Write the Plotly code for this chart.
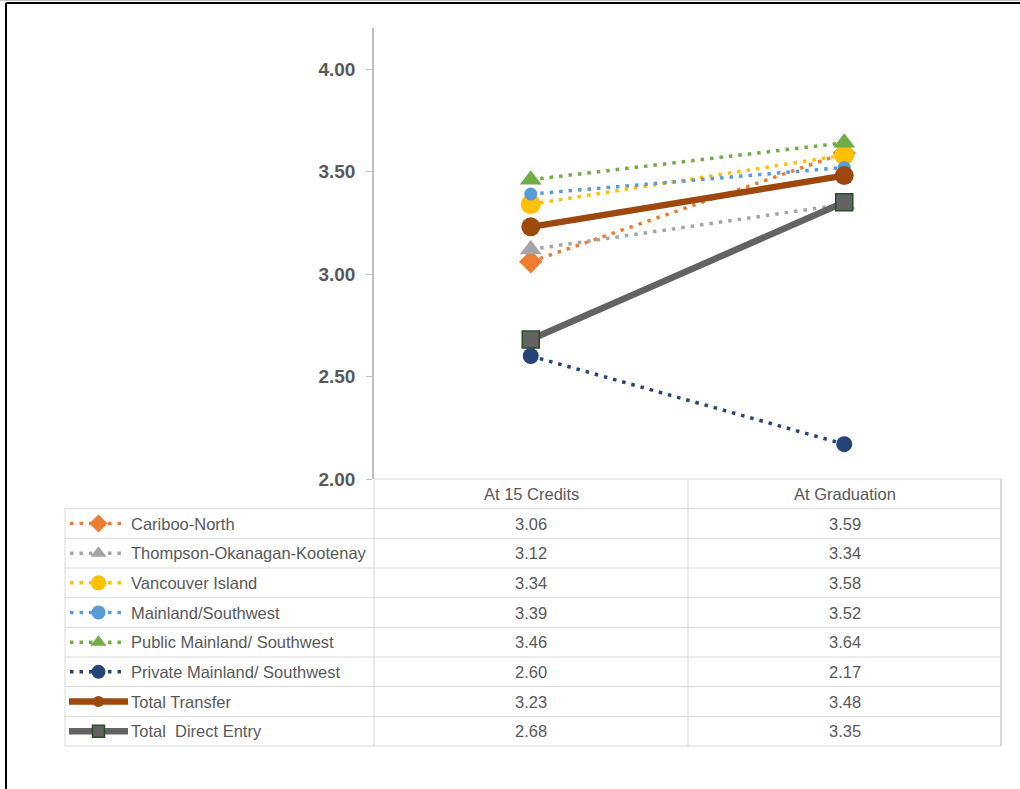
import plotly.graph_objects as go

# ---------------- data ----------------
categories = ["At 15 Credits", "At Graduation"]
series_names = [
    "Cariboo-North",
    "Thompson-Okanagan-Kootenay",
    "Vancouver Island",
    "Mainland/Southwest",
    "Public Mainland/ Southwest",
    "Private Mainland/ Southwest",
    "Total Transfer",
    "Total  Direct Entry",
]
cariboo_north = [3.06, 3.59]
thompson_okanagan_kootenay = [3.12, 3.34]
vancouver_island = [3.34, 3.58]
mainland_southwest = [3.39, 3.52]
public_mainland_southwest = [3.46, 3.64]
private_mainland_southwest = [2.60, 2.17]
total_transfer = [3.23, 3.48]
total_direct_entry = [2.68, 3.35]
series_values = [
    cariboo_north, thompson_okanagan_kootenay, vancouver_island,
    mainland_southwest, public_mainland_southwest, private_mainland_southwest,
    total_transfer, total_direct_entry,
]
y_ticks = [2.0, 2.5, 3.0, 3.5, 4.0]

# ---------------- styles ----------------
DOT = "3.5px,6px"
styles = [
    dict(color="#ED7D31", dash=DOT, width=3.5, symbol="diamond", size=18, lsize=14, mline=None),
    dict(color="#A5A5A5", dash=DOT, width=3.5, symbol="triangle-up", size=19, lsize=14, mline=None),
    dict(color="#FFC000", dash=DOT, width=3.5, symbol="circle", size=20, lsize=15, mline=None),
    dict(color="#5B9BD5", dash=DOT, width=3.5, symbol="circle", size=13, lsize=14, mline=None),
    dict(color="#70AD47", dash=DOT, width=3.5, symbol="triangle-up", size=19, lsize=14, mline=None),
    dict(color="#264478", dash=DOT, width=3.5, symbol="circle", size=16, lsize=14, mline=None),
    dict(color="#9E480E", dash="solid", width=6.5, symbol="circle", size=19, lsize=11, mline=None),
    dict(color="#636363", dash="solid", width=6.5, symbol="square", size=17, lsize=12, mline="#264D26"),
]

W, H = 1020, 789          # reference pixel space
FIG_H = 800               # rendered page height (screenshot is scaled to 789)
PLOT_L, PLOT_R, PLOT_T, PLOT_B = 374, 1001, 28, 479
TAB_L, TAB_B = 65, 746
COL_MID = 688
n_rows = len(series_names) + 1
row_h = (TAB_B - PLOT_B) / n_rows
TEXT = "#595959"
GRID = "#D9D9D9"
FONT = "Liberation Sans, Arial, sans-serif"

fig = go.Figure()

# main chart lines
for name, vals, st in zip(series_names, series_values, styles):
    fig.add_trace(go.Scatter(
        x=categories, y=vals, name=name, mode="lines+markers",
        line=dict(color=st["color"], width=st["width"], dash=st["dash"]),
        marker=dict(symbol=st["symbol"], size=st["size"], color=st["color"], opacity=1,
                    line=dict(color=st["mline"] or st["color"], width=1.5 if st["mline"] else 0)),
        xaxis="x", yaxis="y", showlegend=False, hoverinfo="skip",
    ))

# legend keys inside the data table (pixel-coordinate overlay axes)
for i, (name, st) in enumerate(zip(series_names, styles)):
    yc = PLOT_B + (i + 1.5) * row_h
    x0, x1 = (70, 127) if st["dash"] != "solid" else (69, 128)
    xm = (x0 + x1) / 2
    fig.add_trace(go.Scatter(
        x=[x0, x1], y=[yc, yc], mode="lines",
        line=dict(color=st["color"], width=st["width"], dash=st["dash"]),
        xaxis="x2", yaxis="y2", showlegend=False, hoverinfo="skip",
    ))
    fig.add_trace(go.Scatter(
        x=[xm], y=[yc], mode="markers",
        marker=dict(symbol=st["symbol"], size=st["lsize"], color=st["color"], opacity=1,
                    line=dict(color=st["mline"] or st["color"], width=1.5 if st["mline"] else 0)),
        xaxis="x2", yaxis="y2", showlegend=False, hoverinfo="skip",
    ))

shapes = []
def pline(x0, y0, x1, y1, color=GRID, width=1):
    shapes.append(dict(type="line", xref="paper", yref="paper",
                       x0=x0 / W, x1=x1 / W, y0=1 - y0 / H, y1=1 - y1 / H,
                       line=dict(color=color, width=width), layer="below"))

# table grid
pline(PLOT_L, PLOT_B, PLOT_R, PLOT_B)
for k in range(1, n_rows + 1):
    pline(TAB_L, PLOT_B + k * row_h, PLOT_R, PLOT_B + k * row_h)
pline(TAB_L, PLOT_B + row_h, TAB_L, TAB_B)
pline(PLOT_L, PLOT_B, PLOT_L, TAB_B)
pline(COL_MID, PLOT_B, COL_MID, TAB_B)
pline(PLOT_R, PLOT_B, PLOT_R, TAB_B, width=2)
# outer frame (left and top)
pline(6, 3, 6, H, color="#000000", width=2)
pline(6, 3, W, 3, color="#000000", width=2)
pline(0, 0.5, W, 0.5, color="#BFBFBF", width=1)

annotations = []
col_centers = [(PLOT_L + COL_MID) / 2, (COL_MID + PLOT_R) / 2]
TFS = 16.5
for c, cat in zip(col_centers, categories):
    annotations.append(dict(x=c / W, y=1 - (PLOT_B + 0.5 * row_h) / H, xref="paper", yref="paper",
                            text=cat, showarrow=False, xanchor="center", yanchor="middle",
                            font=dict(size=TFS, color=TEXT, family=FONT)))
for i, (name, vals) in enumerate(zip(series_names, series_values)):
    yc = 1 - (PLOT_B + (i + 1.5) * row_h) / H
    annotations.append(dict(x=129 / W, y=yc, xref="paper", yref="paper", text=name.replace("  ", "&nbsp; "),
                            showarrow=False, xanchor="left", yanchor="middle",
                            font=dict(size=TFS, color=TEXT, family=FONT)))
    for c, v in zip(col_centers, vals):
        annotations.append(dict(x=c / W, y=yc, xref="paper", yref="paper", text=f"{v:.2f}",
                                showarrow=False, xanchor="center", yanchor="middle",
                                font=dict(size=TFS, color=TEXT, family=FONT)))

fig.update_layout(
    width=W, height=FIG_H, margin=dict(l=0, r=0, t=0, b=0),
    paper_bgcolor="white", plot_bgcolor="rgba(0,0,0,0)",
    xaxis=dict(domain=[PLOT_L / W, PLOT_R / W], type="category", range=[-0.5, 1.5],
               showticklabels=False, showgrid=False, zeroline=False, showline=False, ticks=""),
    yaxis=dict(domain=[1 - PLOT_B / H, 1 - PLOT_T / H], range=[2.0, 4.2],
               tickvals=y_ticks, tickformat=".2f", showgrid=False, zeroline=False,
               showline=True, linecolor="#BFBFBF", linewidth=1.5,
               ticks="outside", ticklen=6, tickcolor="#BFBFBF", ticklabelstandoff=7,
               tickfont=dict(size=19, color=TEXT, family=FONT, weight="bold")),
    xaxis2=dict(domain=[0, 1], range=[0, W], visible=False, anchor="y2"),
    yaxis2=dict(domain=[0, 1], range=[H, 0], visible=False, anchor="x2"),
    shapes=shapes, annotations=annotations, showlegend=False,
)

post = (
    "document.documentElement.style.margin='0';"
    "document.documentElement.style.overflow='hidden';"
    "document.body.style.margin='0';"
    "document.body.style.overflow='hidden';"
    "var gd=document.getElementById('{plot_id}');"
    "gd.style.position='absolute';gd.style.left='0px';gd.style.top='0px';"
)
fig.write_html("out.html", config={"displayModeBar": False, "responsive": False}, post_script=post)
